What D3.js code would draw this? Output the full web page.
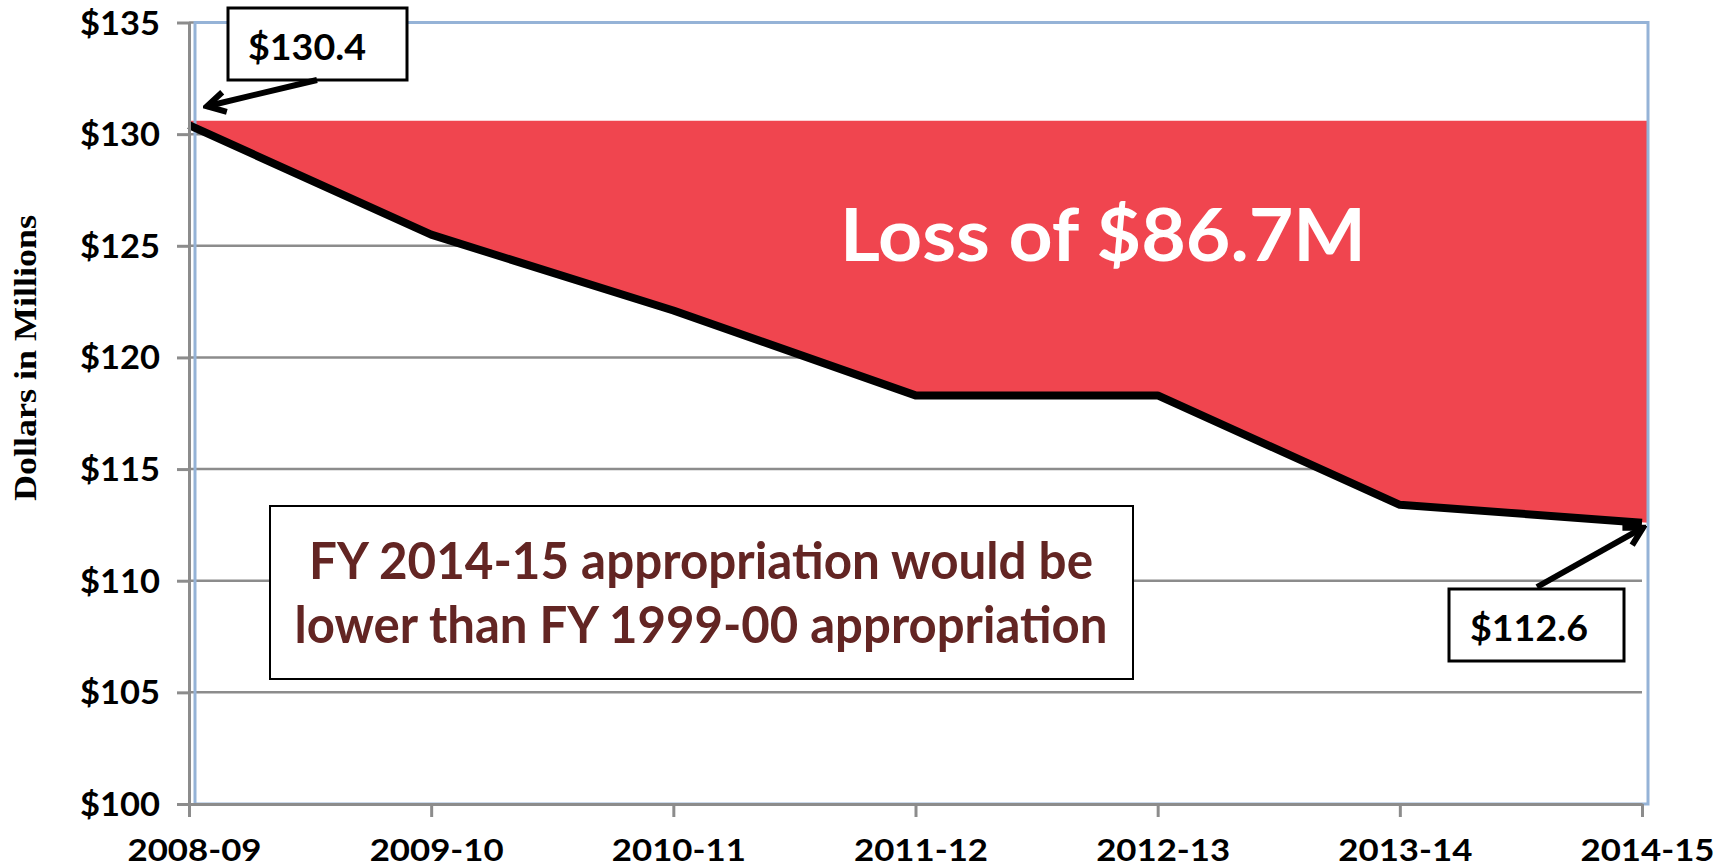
<!DOCTYPE html>
<html>
<head>
<meta charset="utf-8">
<script src="https://cdn.jsdelivr.net/npm/d3@7"></script>
<style>
  body { margin: 0; background: #fff; }
  svg { display: block; }
</style>
</head>
<body>
<div id="chart"></div>
<script>
// fiscal years and appropriation (dollars in millions)
const years = ["2008-09", "2009-10", "2010-11", "2011-12", "2012-13", "2013-14", "2014-15"];
const appropriation = [130.4, 125.5, 122.1, 118.3, 118.3, 113.4, 112.6];
const yTicks = [100, 105, 110, 115, 120, 125, 130, 135];
const shadeTop = 130.6;   // the red "loss" band is drawn up to this level

const lossLabel = "Loss of $86.7M";
const noteLines = ["FY 2014-15 appropriation would be", "lower than FY 1999-00 appropriation"];
const startLabel = "$130.4";
const endLabel = "$112.6";
const yTitle = "Dollars in Millions";

const width = 1728;
const height = 867;
const gray = "#8c8c8c";
const font = "Lato, 'Open Sans', sans-serif";

const data = years.map((yr, i) => ({ year: yr, value: appropriation[i] }));

const svg = d3.select("#chart")
              .append("svg")
              .attr("width", width)
              .attr("height", height)
              .style("background", "#fff");

const x = d3.scalePoint().domain(years).range([189, 1642]);
const y = d3.scaleLinear().domain([100, 135]).range([804, 22.5]);

// arrow head
svg.append("defs").append("marker")
   .attr("id", "arrow")
   .attr("viewBox", "-24 -14 28 28")
   .attr("refX", 0).attr("refY", 0)
   .attr("markerWidth", 28).attr("markerHeight", 28)
   .attr("markerUnits", "userSpaceOnUse")
   .attr("orient", "auto")
   .append("path")
   .attr("d", "M-18,-10 L0,0 L-18,10")
   .attr("fill", "none")
   .attr("stroke", "#000")
   .attr("stroke-width", 6);

// gridlines
svg.append("g")
   .selectAll("line")
   .data(yTicks.filter(d => d > 100))
   .join("line")
   .attr("x1", x(years[0]))
   .attr("x2", x(years[years.length - 1]))
   .attr("y1", d => y(d))
   .attr("y2", d => y(d))
   .attr("stroke", gray)
   .attr("stroke-width", 2.5);

// red loss band between the 2008-09 level and the line
const last = data.length - 1;
const area = d3.area()
               .x((d, i) => i === last ? x(d.year) + 6 : x(d.year))
               .y0(y(shadeTop))
               .y1(d => y(d.value));

svg.append("path")
   .datum(data)
   .attr("d", area)
   .attr("fill", "#f0454f");

// plot area border
svg.append("rect")
   .attr("x", 195)
   .attr("y", y(135))
   .attr("width", 1648 - 195)
   .attr("height", y(100) - y(135))
   .attr("fill", "none")
   .attr("stroke", "#95b3d7")
   .attr("stroke-width", 3);

// appropriation line
const line = d3.line()
               .x(d => x(d.year))
               .y(d => y(d.value));

svg.append("path")
   .datum(data)
   .attr("d", line)
   .attr("fill", "none")
   .attr("stroke", "#000")
   .attr("stroke-width", 8)
   .attr("stroke-linejoin", "round");

// y axis
const yAxis = svg.append("g")
                 .attr("transform", `translate(${x(years[0])},0)`)
                 .call(d3.axisLeft(y)
                         .tickValues(yTicks)
                         .tickSize(12)
                         .tickSizeOuter(0)
                         .tickPadding(17)
                         .tickFormat(d => "$" + d));

// x axis
const xAxis = svg.append("g")
                 .attr("transform", `translate(0,${y(100)})`)
                 .call(d3.axisBottom(x)
                         .tickSize(13)
                         .tickSizeOuter(0));

[yAxis, xAxis].forEach(g => {
  g.select(".domain").attr("stroke", gray).attr("stroke-width", 3);
  g.selectAll(".tick line").attr("stroke", gray).attr("stroke-width", 3);
  g.selectAll(".tick text")
   .attr("fill", "#000")
   .style("font-family", font)
   .style("font-weight", "bold")
   .attr("lengthAdjust", "spacingAndGlyphs");
});

yAxis.selectAll(".tick text")
     .style("font-size", "32px")
     .attr("dy", "0.36em")
     .attr("textLength", 80);

xAxis.selectAll(".tick text")
     .style("font-size", "30px")
     .attr("x", 5)
     .attr("y", 57)
     .attr("dy", 0)
     .attr("textLength", 134);

// y axis title
svg.append("text")
   .attr("transform", "translate(36,358) rotate(-90)")
   .attr("text-anchor", "middle")
   .attr("textLength", 286)
   .attr("lengthAdjust", "spacingAndGlyphs")
   .style("font-family", "'Liberation Serif', 'Times New Roman', serif")
   .style("font-weight", "bold")
   .style("font-size", "31px")
   .text(yTitle);

// big loss label
svg.append("text")
   .attr("x", 840)
   .attr("y", 261)
   .attr("textLength", 526)
   .attr("lengthAdjust", "spacingAndGlyphs")
   .attr("fill", "#fff")
   .style("font-family", font)
   .style("font-weight", "bold")
   .style("font-size", "73px")
   .text(lossLabel);

// note box
const note = svg.append("g");
note.append("rect")
    .attr("x", 270).attr("y", 506)
    .attr("width", 863).attr("height", 173)
    .attr("fill", "#fff")
    .attr("stroke", "#000")
    .attr("stroke-width", 2);

note.selectAll("text")
    .data(noteLines)
    .join("text")
    .attr("x", 701)
    .attr("y", (d, i) => 579 + i * 64)
    .attr("text-anchor", "middle")
    .attr("textLength", (d, i) => i === 0 ? 784 : 813)
    .attr("lengthAdjust", "spacingAndGlyphs")
    .attr("fill", "#632523")
    .style("font-family", font)
    .style("font-weight", "bold")
    .style("font-size", "52px")
    .text(d => d);

// value callouts with arrows
function callout(box, textX, label, from, to) {
  const g = svg.append("g");
  g.append("rect")
   .attr("x", box[0]).attr("y", box[1])
   .attr("width", box[2]).attr("height", box[3])
   .attr("fill", "#fff")
   .attr("stroke", "#000")
   .attr("stroke-width", 3);
  g.append("text")
   .attr("x", textX)
   .attr("y", box[1] + box[3] - 20)
   .attr("textLength", 118)
   .attr("lengthAdjust", "spacingAndGlyphs")
   .attr("fill", "#000")
   .style("font-family", font)
   .style("font-weight", "bold")
   .style("font-size", "37px")
   .text(label);
  g.append("line")
   .attr("x1", from[0]).attr("y1", from[1])
   .attr("x2", to[0]).attr("y2", to[1])
   .attr("stroke", "#000")
   .attr("stroke-width", 6)
   .attr("marker-end", "url(#arrow)");
}

callout([228, 8, 179, 72], 248, startLabel,
        [317, 80], [x(years[0]) + 18, y(appropriation[0]) - 19]);
callout([1449, 589, 175, 72], 1470, endLabel,
        [1537, 587], [x(years[last]) + 1, y(appropriation[last]) + 5]);
</script>
</body>
</html>
